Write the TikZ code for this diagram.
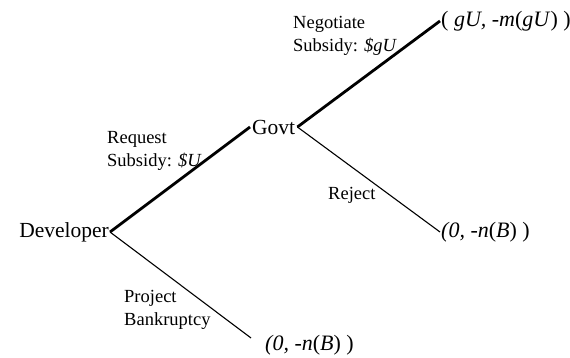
\documentclass[tikz,border=0pt]{standalone}
\usepackage{fontspec}
\setmainfont{Liberation Serif}
\begin{document}
\begin{tikzpicture}[x=1pt,y=-1pt,
  player/.style={font=\fontsize{21.5}{25}\selectfont, inner sep=1pt},
  lbl/.style={font=\fontsize{18.5}{23}\selectfont, align=left, inner sep=0pt, anchor=west},
  pay/.style={font=\fontsize{22}{25}\selectfont, inner sep=1pt, anchor=west},
  thickedge/.style={line width=2.8pt},
  thinedge/.style={line width=1.1pt}]
\useasboundingbox (0,0) rectangle (570,358);
% nodes
\node[player, anchor=east] (dev) at (110,232) {Developer};
\node[player, anchor=west, inner xsep=2pt] (govt) at (250,127) {Govt};
\node[pay] (top) at (440,21) {( \textit{gU, -m}(\textit{gU}) )};
\node[pay] (rej) at (440,232) {\textit{(0, -n}(\textit{B}) )};
\coordinate (bend) at (251,338);
\node[pay] (bot) at (264,345) {\textit{(0, -n}(\textit{B}) )};
% edges
\draw[thickedge] (dev.east) -- (govt.west);
\draw[thickedge] (govt.east) -- (top.west);
\draw[thinedge] (govt.east) -- (rej.west);
\draw[thinedge] (dev.east) -- (bend);
% labels
\node[lbl] (lreq) at (107,151) {Request\\Subsidy: \textit{\$U}};
\node[lbl] (lneg) at (293,36) {Negotiate\\Subsidy: \textit{\$gU}};
\node[lbl] (lrej) at (328,195) {Reject};
\node[lbl] (lbank) at (124,309.5) {Project\\Bankruptcy};
\end{tikzpicture}
\end{document}
